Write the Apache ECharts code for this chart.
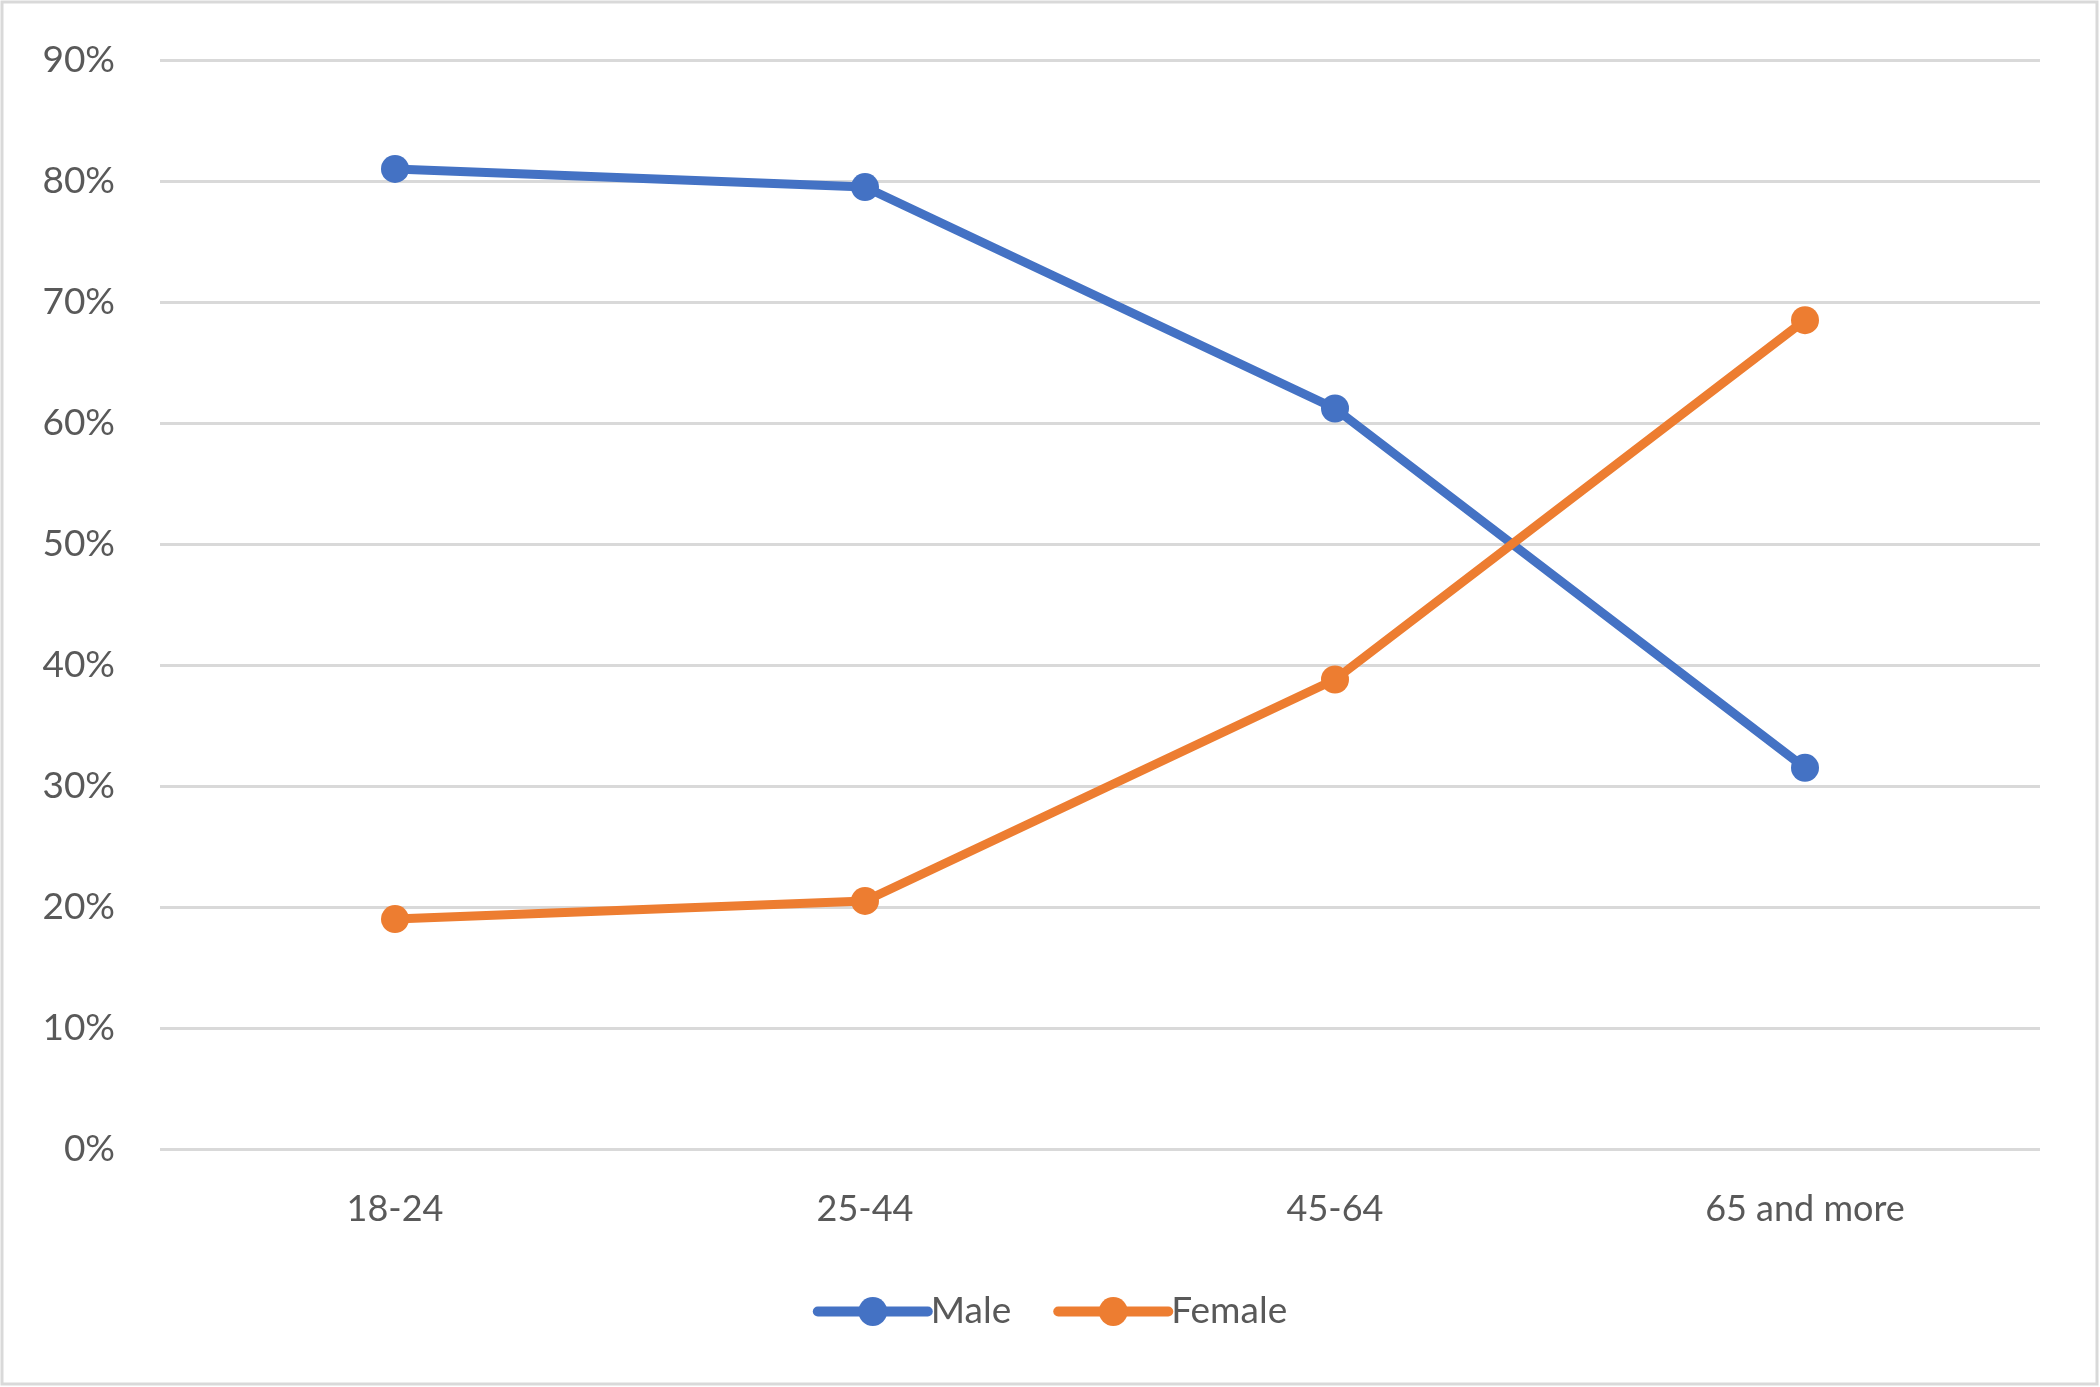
<!DOCTYPE html>
<html>
<head>
<meta charset="utf-8">
<script src="https://cdn.jsdelivr.net/npm/echarts@6/dist/echarts.min.js"></script>
<style>
  html, body { margin: 0; padding: 0; background: #fff; }
  #chart { width: 2100px; height: 1387px; }
</style>
</head>
<body>
<div id="chart"></div>
<script>
  // data
  var categories = ['18-24', '25-44', '45-64', '65 and more'];
  var male = [81.0, 79.5, 61.2, 31.5];
  var female = [19.0, 20.5, 38.8, 68.5];
  var yTicks = [0, 10, 20, 30, 40, 50, 60, 70, 80, 90];

  var textColor = '#595959';
  var font = 'Lato, "Open Sans", sans-serif';

  var chart = echarts.init(document.getElementById('chart'));
  chart.setOption({
    animation: false,
    backgroundColor: '#fff',
    // outer frame
    graphic: [{
      type: 'rect',
      shape: { x: 2, y: 2, width: 2095, height: 1382 },
      style: { fill: 'none', stroke: '#d9d9d9', lineWidth: 3 }
    }],
    grid: { left: 160, right: 60, top: 60, bottom: 238 },
    legend: {
      bottom: 52,
      left: 'center',
      itemWidth: 110,
      itemHeight: 36,
      itemGap: 42,
      lineStyle: { width: 10, cap: 'round' },
      textStyle: { color: textColor, fontSize: 37, fontFamily: font, padding: [0, 0, 0, -2] },
      data: ['Male', 'Female']
    },
    xAxis: {
      type: 'category',
      data: categories,
      axisLine: { show: false },
      axisTick: { show: false },
      axisLabel: { color: textColor, fontSize: 36, fontFamily: font, margin: 42 }
    },
    yAxis: {
      type: 'value',
      min: yTicks[0],
      max: yTicks[yTicks.length - 1],
      interval: 10,
      axisLine: { show: false },
      axisTick: { show: false },
      axisLabel: { color: textColor, fontSize: 37, fontFamily: font, margin: 45, formatter: '{value}%' },
      splitLine: { lineStyle: { color: '#d9d9d9', width: 3 } }
    },
    series: [
      {
        name: 'Male',
        type: 'line',
        data: male,
        symbol: 'circle',
        symbolSize: 28,
        color: '#4472C4',
        lineStyle: { width: 9, color: '#4472C4' }
      },
      {
        name: 'Female',
        type: 'line',
        data: female,
        symbol: 'circle',
        symbolSize: 28,
        color: '#ED7D31',
        lineStyle: { width: 9, color: '#ED7D31' }
      }
    ]
  });
</script>
</body>
</html>
